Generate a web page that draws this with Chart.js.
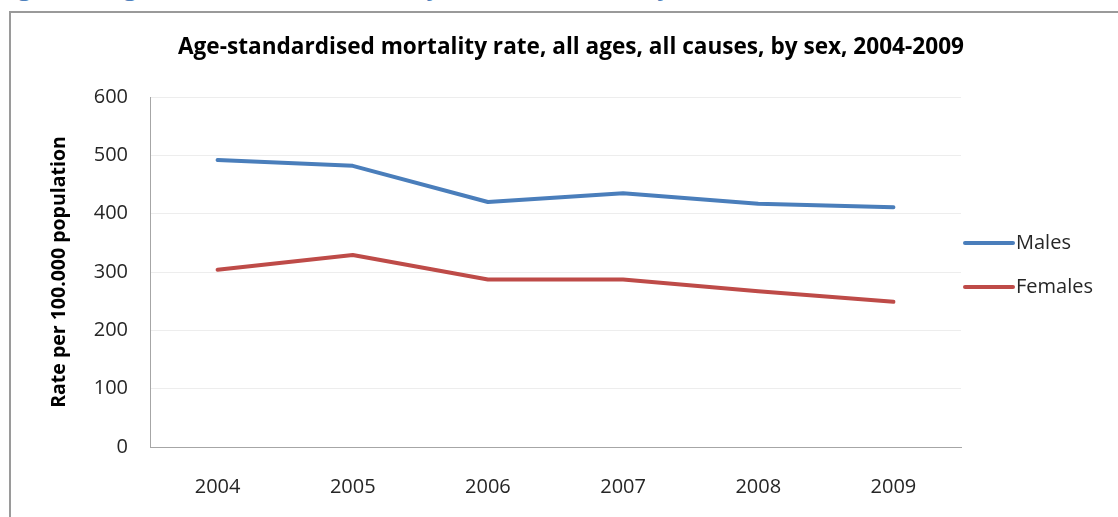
<!DOCTYPE html>
<html>
<head>
<meta charset="utf-8">
<script src="https://cdn.jsdelivr.net/npm/chart.js@4/dist/chart.umd.min.js"></script>
<style>
  html, body { margin: 0; padding: 0; background: #fff; }
  body { width: 1118px; height: 517px; position: relative; overflow: hidden; }
  #heading {
    position: absolute; left: -3px; top: -29px; white-space: nowrap;
    font: bold 24.4px "Open Sans", sans-serif; color: #4F81BD; line-height: 30px;
  }
  #frame {
    position: absolute; left: 9px; top: 11px; width: 1200px; height: 600px;
    border-top: 2px solid #9a9a9a; border-left: 2px solid #9a9a9a;
  }
  #wrap { position: absolute; left: 0; top: 0; width: 1118px; height: 517px; }
</style>
</head>
<body>
<div id="heading">Figure 2: Age-standardised mortality rate, all causes, by sex, 2004-2009</div>
<div id="frame"></div>
<div id="wrap"><canvas id="c" width="1118" height="517"></canvas></div>
<script>
// Years on the category axis
const years = ['2004', '2005', '2006', '2007', '2008', '2009'];
// Age-standardised mortality rate per 100.000 population
const males = [492, 482, 420, 435, 417, 411];
const females = [304, 329, 287, 287, 267, 249];
const seriesNames = ['Males', 'Females'];
const seriesColors = ['#4A7EBB', '#BE4B48'];
const yTicks = [0, 100, 200, 300, 400, 500, 600];
const chartTitle = 'Age-standardised mortality rate, all ages, all causes, by sex, 2004-2009';

const FONT = '"Open Sans", sans-serif';

// Chart heading, centred over the whole chart block including the legend
const heading = {
  id: 'heading',
  afterDraw(chart) {
    const ctx = chart.ctx;
    ctx.save();
    ctx.fillStyle = '#000';
    ctx.font = 'bold 22.6px ' + FONT;
    ctx.textAlign = 'center';
    ctx.textBaseline = 'middle';
    ctx.fillText(chartTitle, 571, 48);
    ctx.restore();
  }
};

// Legend drawn at the right of the plot: a short line and the series name
const sideLegend = {
  id: 'sideLegend',
  afterDraw(chart) {
    const ctx = chart.ctx;
    const x0 = chart.chartArea.right + 2;
    const rows = [243, 287];
    ctx.save();
    chart.data.datasets.forEach((ds, i) => {
      const y = rows[i];
      ctx.strokeStyle = ds.borderColor;
      ctx.lineWidth = 4;
      ctx.lineCap = 'round';
      ctx.beginPath();
      ctx.moveTo(x0 + 2, y);
      ctx.lineTo(x0 + 50, y);
      ctx.stroke();
      ctx.fillStyle = '#262626';
      ctx.font = '20px ' + FONT;
      ctx.textBaseline = 'middle';
      ctx.textAlign = 'left';
      ctx.fillText(ds.label, x0 + 53, y);
    });
    ctx.restore();
  }
};

new Chart(document.getElementById('c'), {
  type: 'line',
  data: {
    labels: years,
    datasets: [
      { label: seriesNames[0], data: males, borderColor: seriesColors[0], backgroundColor: seriesColors[0] },
      { label: seriesNames[1], data: females, borderColor: seriesColors[1], backgroundColor: seriesColors[1] }
    ]
  },
  options: {
    responsive: false,
    animation: false,
    devicePixelRatio: 1,
    layout: { padding: { left: 24, right: 157, top: 97, bottom: 0 } },
    elements: {
      line: { borderWidth: 4, tension: 0, borderCapStyle: 'round', borderJoinStyle: 'round' },
      point: { radius: 0, hoverRadius: 0 }
    },
    plugins: {
      legend: { display: false },
      tooltip: { enabled: false },
      title: { display: false }
    },
    scales: {
      x: {
        offset: true,
        grid: { color: 'rgba(0,0,0,0)', drawTicks: false },
        border: { display: true, color: '#a6a6a6', width: 1 },
        ticks: { color: '#262626', font: { family: FONT, size: 20 }, padding: 28, maxRotation: 0 },
        afterFit(scale) { scale.height = 70; }
      },
      y: {
        min: 0,
        max: 600,
        afterBuildTicks(scale) { scale.ticks = yTicks.map(v => ({ value: v })); },
        grid: { color: '#ededed', drawTicks: false },
        border: { display: true, color: '#a6a6a6', width: 1 },
        ticks: { color: '#262626', font: { family: FONT, size: 20 }, padding: 22 },
        title: {
          display: true,
          text: 'Rate per 100.000 population',
          color: '#000',
          font: { family: FONT, size: 19.5, weight: 'bold' },
          padding: { top: 24, bottom: 0 }
        },
        afterFit(scale) { scale.width = 126; }
      }
    }
  },
  plugins: [heading, sideLegend]
});
</script>
</body>
</html>
